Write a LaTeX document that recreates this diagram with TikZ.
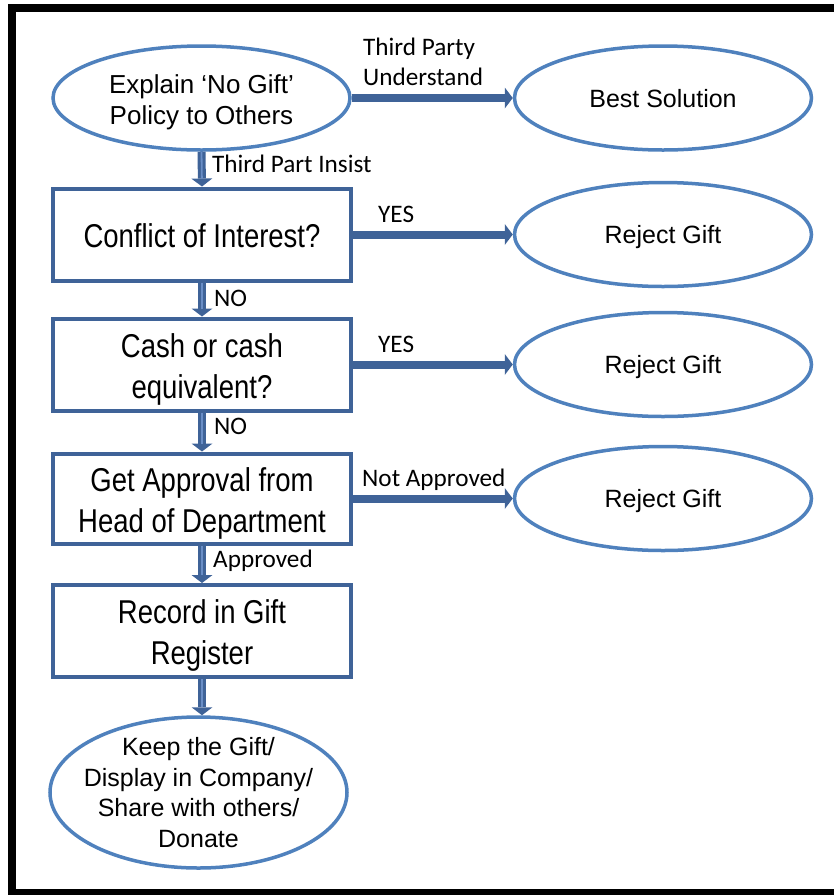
\documentclass[tikz,border=0pt]{standalone}
\usepackage{fontspec}
\usepackage{graphicx}
\setmainfont{Liberation Sans}
\newfontfamily\lblfont{Carlito}
\usetikzlibrary{shapes.geometric,arrows.meta}
\definecolor{dk}{HTML}{3F6398}
\definecolor{lt}{HTML}{4F81BD}
\definecolor{st}{HTML}{6A8EC6}
\newcommand\boxtxt[1]{\scalebox{1}[1.2]{\begin{tabular}{@{}c@{}}#1\end{tabular}}}
\begin{document}
\begin{tikzpicture}[x=1pt,y=-1pt,
  box/.style={draw=dk, line width=4pt, minimum width=298pt, minimum height=92pt, inner sep=0pt, fill=white},
  ell/.style={ellipse, draw=lt, line width=3.5pt, minimum width=297pt, minimum height=104pt, inner sep=0pt, fill=white},
  btext/.style={font=\fontsize{27.5}{34}\selectfont, inner sep=0pt, yshift=-5pt},
  etext/.style={font=\fontsize{25}{30.5}\selectfont, align=center, inner sep=0pt},
  eone/.style={font=\fontsize{25}{30}\selectfont, inner sep=0pt, text height=18pt, text depth=0pt},
  lbl/.style={font=\lblfont\fontsize{25.2}{30}\selectfont, inner sep=0pt, align=left},
  conn/.style={draw=dk, line width=8pt, -{Triangle[width=21pt,length=8pt,line width=0pt]}},
  vconn/.style={conn, postaction={draw=st, line width=1.8pt, -, shorten >=8pt}}
]
\useasboundingbox (0,0) rectangle (834,895);
\begin{scope}
  \clip (0,0) rectangle (834,895);
  \draw[line width=8pt] (12,8) rectangle (842,893);
\end{scope}

% left column
\node[ell] (e1) at (201.5,98) {};
\node[etext, font=\fontsize{26}{31}\selectfont, yshift=-4.5pt] (t1) at (e1.center) {Explain ‘No Gift’\\Policy to Others};
\node[box] (b1) at (202,234.5) {};
\node[btext] (t2) at (b1.center) {\boxtxt{Conflict of Interest?}};
\node[box] (b2) at (202,364.5) {};
\node[btext] (t3) at (b2.center) {\boxtxt{Cash or cash\\ equivalent?}};
\node[box, minimum height=90pt] (b3) at (202,498.5) {};
\node[btext] (t4) at (b3.center) {\boxtxt{Get Approval from\\ Head of Department}};
\node[box] (b4) at (202,631) {};
\node[btext] (t5) at (b4.center) {\boxtxt{Record in Gift\\ Register}};
\node[ell, minimum height=151pt] (e5) at (198.5,792.5) {};
\node[etext] (t6) at (e5.center) {Keep the Gift/\\Display in Company/\\Share with others/\\Donate};

% right column
\node[ell, eone] (r0) at (663,98) {Best Solution};
\node[ell, eone] (r1) at (663,234.5) {Reject Gift};
\node[ell, eone] (r2) at (663,364.5) {Reject Gift};
\node[ell, eone] (r3) at (663,498.5) {Reject Gift};

% connectors
\draw[vconn] (e1.south) -- (b1.north);
\draw[vconn] (b1.south) -- (b2.north);
\draw[vconn] (b2.south) -- (b3.north);
\draw[vconn] (b3.south) -- (b4.north);
\draw[vconn] (b4.south) -- (b4.south |- e5.north);
\draw[conn] (e1.east) -- (r0.west);
\draw[conn] (b1.east) -- (r1.west);
\draw[conn] (b2.east) -- (r2.west);
\draw[conn] (b3.east) -- (r3.west);

% labels
\node[lbl, anchor=west] (l0) at (363,62) {Third Party\\Understand};
\node[lbl, anchor=base west] (l1) at (212,172) {Third Part Insist};
\node[lbl, anchor=base west] (l2) at (378,222) {YES};
\node[lbl, anchor=base west] (l3) at (214,306) {NO};
\node[lbl, anchor=base west] (l4) at (378,352) {YES};
\node[lbl, anchor=base west] (l5) at (214,434) {NO};
\node[lbl, anchor=base west] (l6) at (362,486) {Not Approved};
\node[lbl, anchor=base west] (l7) at (213,567) {Approved};
\end{tikzpicture}
\end{document}
